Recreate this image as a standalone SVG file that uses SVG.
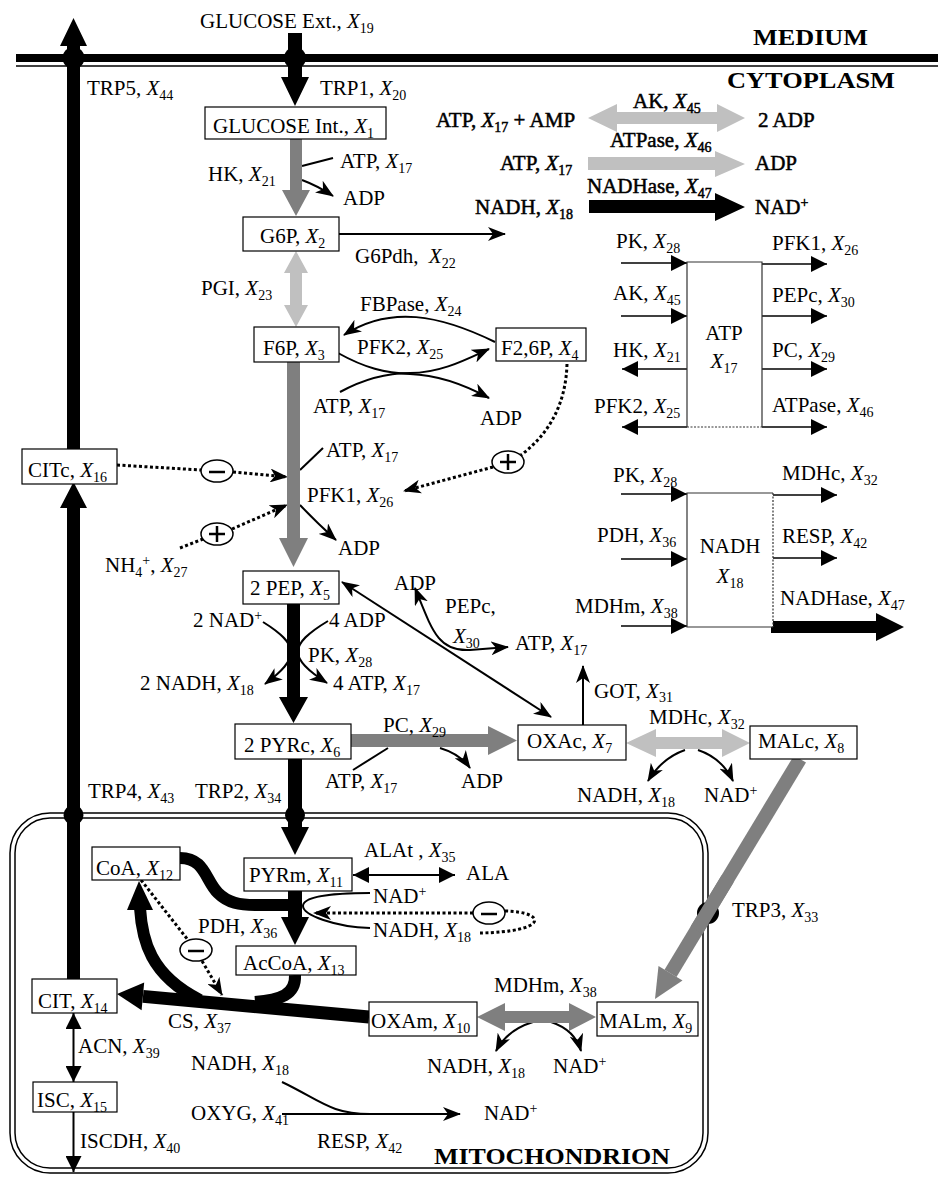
<svg xmlns="http://www.w3.org/2000/svg" width="938" height="1177" viewBox="0 0 938 1177">
<style>
.t{font-family:"Liberation Serif","Times New Roman",serif;font-size:21px;fill:#000}
.h{stroke:#000;stroke-width:0.5}
.s{font-size:14px}
.i{font-style:italic}
.b{font-family:"Liberation Serif","Times New Roman",serif;font-weight:bold;font-size:24px;fill:#000}
.box{fill:#fff;stroke:#000;stroke-width:1.2}
.ln{fill:none;stroke:#000;stroke-width:2}
.bl{fill:none;stroke:#000;stroke-width:1.5}
.dt{fill:none;stroke:#000;stroke-width:3;stroke-dasharray:3 2.5}
.sg{fill:#fff;stroke:#000;stroke-width:1.5}
.sgl{stroke:#000;stroke-width:2.5}
.dk{fill:#7f7f7f}
.lt{fill:#c0c0c0}
.bk{fill:#000}
.thk{fill:none;stroke:#000;stroke-width:12}
</style>
<defs>
<marker id="nt" viewBox="0 0 18 14" refX="17" refY="7" markerWidth="18" markerHeight="14" markerUnits="userSpaceOnUse" orient="auto-start-reverse"><path d="M0,0 L18,7 L0,14 L5,7 z" fill="#000"/></marker>
<marker id="tri" viewBox="0 0 16 16" refX="16" refY="8" markerWidth="16" markerHeight="16" markerUnits="userSpaceOnUse" orient="auto-start-reverse"><path d="M0,0 L16,8 L0,16 z" fill="#000"/></marker>
</defs>
<rect width="938" height="1177" fill="#fff"/>

<g id="compartments">
<rect x="16" y="54" width="922" height="8" fill="#000"/>
<line x1="16" y1="66" x2="938" y2="66" stroke="#000" stroke-width="1.5"/>
<rect x="10" y="813" width="698" height="360" rx="40" fill="none" stroke="#000" stroke-width="1.5"/>
<rect x="15" y="818" width="688" height="350" rx="35" fill="none" stroke="#000" stroke-width="1.5"/>
<text class="b" x="753" y="45" textLength="115" lengthAdjust="spacingAndGlyphs">MEDIUM</text>
<text class="b" x="727" y="88" textLength="168" lengthAdjust="spacingAndGlyphs">CYTOPLASM</text>
<text class="b" x="434" y="1164" textLength="236" lengthAdjust="spacingAndGlyphs">MITOCHONDRION</text>
</g>

<g id="connectors">
<path class="ln" d="M339,234 H505" marker-end="url(#nt)"/>
<path class="ln" d="M302,166 L333,158"/>
<path class="ln" d="M302,180 Q318,186 333,196" marker-end="url(#nt)"/>
<path class="ln" d="M495,342 C440,315 390,305 344,335" marker-end="url(#nt)"/>
<path class="ln" d="M338,353 C365,368 385,373 410,374 C440,375 465,385 489,398" marker-end="url(#nt)"/>
<path class="ln" d="M340,392 C362,380 385,373 410,373 C440,373 465,360 489,349" marker-end="url(#nt)"/>
<path class="ln" d="M300,470 L323,448"/>
<path class="ln" d="M300,505 Q316,522 336,540" marker-end="url(#nt)"/>
<path class="ln" d="M263,622 C300,645 300,658 265,684" marker-end="url(#nt)"/>
<path class="ln" d="M328,621 C288,645 288,658 327,683" marker-end="url(#nt)"/>
<path class="ln" d="M342,582 L551,717" marker-start="url(#nt)" marker-end="url(#nt)"/>
<path class="ln" d="M415,588 C432,630 438,652 470,650 L508,647" marker-start="url(#nt)" marker-end="url(#nt)"/>
<path class="ln" d="M583,725 V666" marker-end="url(#nt)"/>
<path class="ln" d="M353,770 L388,748"/>
<path class="ln" d="M440,748 Q460,754 470,768" marker-end="url(#nt)"/>
<path class="ln" d="M685,750 Q662,758 648,781" marker-end="url(#nt)"/>
<path class="ln" d="M698,750 Q722,758 733,781" marker-end="url(#nt)"/>
<path class="ln" d="M353,875 H455" marker-start="url(#tri)" marker-end="url(#tri)"/>
<path class="ln" d="M370,893 C330,893 303,897 303,906 C303,915 335,927 370,928"/>
<path class="ln" d="M533,1022 Q507,1030 496,1051" marker-end="url(#nt)"/>
<path class="ln" d="M551,1022 Q575,1030 581,1051" marker-end="url(#nt)"/>
<path class="ln" d="M282,1114 H460" marker-end="url(#nt)"/>
<path class="ln" d="M282,1082 C320,1100 330,1114 370,1114"/>
<path class="ln" d="M73.5,1013 V1082" marker-start="url(#tri)" marker-end="url(#tri)"/>
<path class="ln" d="M73.5,1112 V1172" marker-end="url(#tri)"/>
<path class="bl" d="M621,263 H687" marker-end="url(#tri)"/>
<path class="bl" d="M621,316 H687" marker-end="url(#tri)"/>
<path class="bl" d="M687,369 H622" marker-end="url(#tri)"/>
<path class="bl" d="M687,427 H622" marker-end="url(#tri)"/>
<path class="bl" d="M762,264 H827" marker-end="url(#tri)"/>
<path class="bl" d="M762,316 H827" marker-end="url(#tri)"/>
<path class="bl" d="M762,369 H827" marker-end="url(#tri)"/>
<path class="bl" d="M762,427 H827" marker-end="url(#tri)"/>
<path class="bl" d="M621,494 H687" marker-end="url(#tri)"/>
<path class="bl" d="M621,559 H687" marker-end="url(#tri)"/>
<path class="bl" d="M621,626 H687" marker-end="url(#tri)"/>
<path class="bl" d="M773,495 H837" marker-end="url(#tri)"/>
<path class="bl" d="M773,558 H837" marker-end="url(#tri)"/>
<path class="dt" d="M117,465 L201,470"/>
<path class="dt" d="M233,472 L287,477" marker-end="url(#nt)"/>
<path class="dt" d="M180,548 L203,539"/>
<path class="dt" d="M232,529 L287,505" marker-end="url(#nt)"/>
<path class="dt" d="M567,364 C566,400 552,432 521,455"/>
<path class="dt" d="M493,467 L404,491" marker-end="url(#nt)"/>
<path class="dt" d="M473,913 L314,913" marker-end="url(#nt)"/>
<path class="dt" d="M505,911 C548,912 548,932 480,933"/>
<path class="dt" d="M141,880 L188,940"/>
<path class="dt" d="M202,961 L222,995" marker-end="url(#nt)"/>
<polygon class="bk" points="67,449 80,449 80,46 87,46 73.5,18 60,46 67,46"/>
<polygon class="bk" points="67,979 80,979 80,508 87,508 73.5,482 60,508 67,508"/>
<polygon class="bk" points="288,33 302,33 302,77 309,77 295,106 281,77 288,77"/>
<polygon class="dk" points="290,139 302,139 302,190 310,190 296,216 282,190 290,190"/>
<polygon class="lt" points="296,251 308,273 302,273 302,305 308,305 296,327 284,305 290,305 290,273 284,273"/>
<polygon class="dk" points="287,362 300,362 300,538 308,538 293.5,567 279,538 287,538"/>
<polygon class="bk" points="287,604 300,604 300,697 308,697 293.5,723 279,697 287,697"/>
<polygon class="bk" points="288,759 302,759 302,827 309,827 295,855 281,827 288,827"/>
<polygon class="bk" points="288,891 302,891 302,917 309,917 295,945 281,917 288,917"/>
<polygon class="dk" points="351,734 488,734 488,726 517,740.5 488,755 488,747 351,747"/>
<polygon class="lt" points="626,743 656,729 656,737 722,737 722,729 750,743 722,757 722,749 656,749 656,757"/>
<polygon class="dk" points="477,1017 505,1003 505,1011 569,1011 569,1003 596,1017 569,1031 569,1023 505,1023 505,1031"/>
<polygon class="lt" points="588,118 617,104 617,112 717,112 717,104 745,118 717,132 717,124 617,124 617,132"/>
<polygon class="lt" points="588,157 715,157 715,151 745,164 715,177 715,170 588,170"/>
<polygon class="bk" points="589,200 715,200 715,193 745,207 715,221 715,213 589,213"/>
<polygon class="bk" points="771,621 876,621 876,613 904,627 876,641 876,633 771,633"/>
<line x1="800" y1="759" x2="670.5" y2="973.3" stroke="#7f7f7f" stroke-width="14"/>
<polygon class="dk" points="655,999 682.5,980.5 658.5,966.1"/>
<line x1="369" y1="1017" x2="143" y2="996.4" stroke="#000" stroke-width="13"/>
<polygon class="bk" points="117,994 144.2,982.5 141.6,1010.3"/>
<path class="thk" d="M180,858 C205,858 205,880 218,893 C228,903 240,905 255,905 L289,905"/>
<path class="thk" d="M140,908 C142,940 150,975 200,1000" stroke-width="13"/>
<polygon class="bk" points="139,881 153,910 127,910"/>
<path class="thk" d="M295,975 C296,995 280,1000 255,1002"/>
<circle cx="73.5" cy="58" r="11" fill="#000"/>
<circle cx="295" cy="58" r="11" fill="#000"/>
<circle cx="73.5" cy="815" r="10" fill="#000"/>
<circle cx="295" cy="815" r="10" fill="#000"/>
<circle cx="708" cy="913" r="11" fill="#000"/>
<line x1="800" y1="759" x2="670.5" y2="973.3" stroke="#7f7f7f" stroke-width="14" stroke-dasharray="0 140 60 400"/>
<ellipse class="sg" cx="217" cy="471" rx="16" ry="11"/><line class="sgl" x1="209" y1="472" x2="225" y2="472"/>
<ellipse class="sg" cx="217" cy="534" rx="16" ry="11"/><line class="sgl" x1="209" y1="534" x2="225" y2="534"/><line class="sgl" x1="217" y1="526" x2="217" y2="542"/>
<ellipse class="sg" cx="508" cy="462" rx="16" ry="11"/><line class="sgl" x1="500" y1="462" x2="516" y2="462"/><line class="sgl" x1="508" y1="454" x2="508" y2="470"/>
<ellipse class="sg" cx="489" cy="913" rx="16" ry="11"/><line class="sgl" x1="481" y1="914" x2="497" y2="914"/>
<ellipse class="sg" cx="196" cy="950" rx="16" ry="11"/><line class="sgl" x1="188" y1="951" x2="204" y2="951"/>
</g>

<g id="labels">
<text class="t" x="200" y="28">GLUCOSE Ext., <tspan class="i">X</tspan><tspan class="s" dy="5">19</tspan></text>
<text class="t" x="87" y="95">TRP5, <tspan class="i">X</tspan><tspan class="s" dy="5">44</tspan></text>
<text class="t" x="320" y="95">TRP1, <tspan class="i">X</tspan><tspan class="s" dy="5">20</tspan></text>
<text class="t" x="208" y="181">HK, <tspan class="i">X</tspan><tspan class="s" dy="5">21</tspan></text>
<text class="t" x="340" y="168">ATP, <tspan class="i">X</tspan><tspan class="s" dy="5">17</tspan></text>
<text class="t" x="343" y="205">ADP</text>
<text class="t" x="355" y="263">G6Pdh, <tspan class="i" dx="5">X</tspan><tspan class="s" dy="5">22</tspan></text>
<text class="t" x="201" y="295">PGI, <tspan class="i">X</tspan><tspan class="s" dy="5">23</tspan></text>
<text class="t" x="360" y="311">FBPase, <tspan class="i">X</tspan><tspan class="s" dy="5">24</tspan></text>
<text class="t" x="357" y="354">PFK2, <tspan class="i">X</tspan><tspan class="s" dy="5">25</tspan></text>
<text class="t" x="313" y="413">ATP, <tspan class="i">X</tspan><tspan class="s" dy="5">17</tspan></text>
<text class="t" x="480" y="425">ADP</text>
<text class="t" x="326" y="457">ATP, <tspan class="i">X</tspan><tspan class="s" dy="5">17</tspan></text>
<text class="t" x="307" y="502">PFK1, <tspan class="i">X</tspan><tspan class="s" dy="5">26</tspan></text>
<text class="t" x="338" y="555">ADP</text>
<text class="t" x="105" y="572">NH<tspan class="s" dy="5">4</tspan><tspan class="s" dy="-12">+</tspan><tspan dy="7">, </tspan><tspan class="i">X</tspan><tspan class="s" dy="5">27</tspan></text>
<text class="t" x="394" y="590">ADP</text>
<text class="t" x="445" y="613">PEPc,</text>
<text class="t" x="453" y="643"><tspan class="i">X</tspan><tspan class="s" dy="5">30</tspan></text>
<text class="t" x="515" y="650">ATP, <tspan class="i">X</tspan><tspan class="s" dy="5">17</tspan></text>
<text class="t" x="193" y="627">2 NAD<tspan class="s" dy="-7">+</tspan></text>
<text class="t" x="329" y="627">4 ADP</text>
<text class="t" x="308" y="662">PK, <tspan class="i">X</tspan><tspan class="s" dy="5">28</tspan></text>
<text class="t" x="140" y="690">2 NADH, <tspan class="i">X</tspan><tspan class="s" dy="5">18</tspan></text>
<text class="t" x="333" y="690">4 ATP, <tspan class="i">X</tspan><tspan class="s" dy="5">17</tspan></text>
<text class="t" x="594" y="698">GOT, <tspan class="i">X</tspan><tspan class="s" dy="4">31</tspan></text>
<text class="t" x="383" y="732">PC, <tspan class="i">X</tspan><tspan class="s" dy="5">29</tspan></text>
<text class="t" x="649" y="724">MDHc, <tspan class="i">X</tspan><tspan class="s" dy="5">32</tspan></text>
<text class="t" x="325" y="788">ATP, <tspan class="i">X</tspan><tspan class="s" dy="5">17</tspan></text>
<text class="t" x="461" y="788">ADP</text>
<text class="t" x="577" y="802">NADH, <tspan class="i">X</tspan><tspan class="s" dy="5">18</tspan></text>
<text class="t" x="704" y="802">NAD<tspan class="s" dy="-7">+</tspan></text>
<text class="t" x="88" y="798">TRP4, <tspan class="i">X</tspan><tspan class="s" dy="5">43</tspan></text>
<text class="t" x="195" y="798">TRP2, <tspan class="i">X</tspan><tspan class="s" dy="5">34</tspan></text>
<text class="t" x="364" y="857">ALAt , <tspan class="i">X</tspan><tspan class="s" dy="5">35</tspan></text>
<text class="t" x="466" y="880">ALA</text>
<text class="t" x="373" y="903">NAD<tspan class="s" dy="-7">+</tspan></text>
<text class="t" x="732" y="917">TRP3, <tspan class="i">X</tspan><tspan class="s" dy="5">33</tspan></text>
<text class="t" x="198" y="933">PDH, <tspan class="i">X</tspan><tspan class="s" dy="5">36</tspan></text>
<text class="t" x="373" y="937">NADH, <tspan class="i">X</tspan><tspan class="s" dy="5">18</tspan></text>
<text class="t" x="494" y="992">MDHm, <tspan class="i">X</tspan><tspan class="s" dy="5">38</tspan></text>
<text class="t" x="168" y="1028">CS, <tspan class="i">X</tspan><tspan class="s" dy="5">37</tspan></text>
<text class="t" x="78" y="1053">ACN, <tspan class="i">X</tspan><tspan class="s" dy="5">39</tspan></text>
<text class="t" x="191" y="1070">NADH, <tspan class="i">X</tspan><tspan class="s" dy="5">18</tspan></text>
<text class="t" x="427" y="1073">NADH, <tspan class="i">X</tspan><tspan class="s" dy="5">18</tspan></text>
<text class="t" x="553" y="1073">NAD<tspan class="s" dy="-7">+</tspan></text>
<text class="t" x="191" y="1120">OXYG, <tspan class="i">X</tspan><tspan class="s" dy="5">41</tspan></text>
<text class="t" x="484" y="1120">NAD<tspan class="s" dy="-7">+</tspan></text>
<text class="t" x="80" y="1148">ISCDH, <tspan class="i">X</tspan><tspan class="s" dy="5">40</tspan></text>
<text class="t" x="317" y="1148">RESP, <tspan class="i">X</tspan><tspan class="s" dy="5">42</tspan></text>
<text class="t h" x="633" y="108">AK, <tspan class="i">X</tspan><tspan class="s" dy="5">45</tspan></text>
<text class="t h" x="436" y="127">ATP, <tspan class="i">X</tspan><tspan class="s" dy="5">17</tspan><tspan dy="-5"> + AMP</tspan></text>
<text class="t h" x="758" y="127">2 ADP</text>
<text class="t h" x="610" y="147">ATPase, <tspan class="i">X</tspan><tspan class="s" dy="5">46</tspan></text>
<text class="t h" x="500" y="170">ATP, <tspan class="i">X</tspan><tspan class="s" dy="5">17</tspan></text>
<text class="t h" x="755" y="170">ADP</text>
<text class="t h" x="587" y="193">NADHase, <tspan class="i">X</tspan><tspan class="s" dy="5">47</tspan></text>
<text class="t h" x="475" y="214">NADH, <tspan class="i">X</tspan><tspan class="s" dy="5">18</tspan></text>
<text class="t h" x="755" y="214">NAD<tspan class="s" dy="-7">+</tspan></text>
<text class="t" x="616" y="248">PK, <tspan class="i">X</tspan><tspan class="s" dy="5">28</tspan></text>
<text class="t" x="613" y="300">AK, <tspan class="i">X</tspan><tspan class="s" dy="5">45</tspan></text>
<text class="t" x="613" y="357">HK, <tspan class="i">X</tspan><tspan class="s" dy="5">21</tspan></text>
<text class="t" x="594" y="413">PFK2, <tspan class="i">X</tspan><tspan class="s" dy="5">25</tspan></text>
<text class="t" x="772" y="250">PFK1, <tspan class="i">X</tspan><tspan class="s" dy="5">26</tspan></text>
<text class="t" x="772" y="302">PEPc, <tspan class="i">X</tspan><tspan class="s" dy="5">30</tspan></text>
<text class="t" x="772" y="357">PC, <tspan class="i">X</tspan><tspan class="s" dy="5">29</tspan></text>
<text class="t" x="772" y="412">ATPase, <tspan class="i">X</tspan><tspan class="s" dy="5">46</tspan></text>
<text class="t" x="613" y="482">PK, <tspan class="i">X</tspan><tspan class="s" dy="5">28</tspan></text>
<text class="t" x="597" y="542">PDH, <tspan class="i">X</tspan><tspan class="s" dy="5">36</tspan></text>
<text class="t" x="575" y="613">MDHm, <tspan class="i">X</tspan><tspan class="s" dy="5">38</tspan></text>
<text class="t" x="782" y="480">MDHc, <tspan class="i">X</tspan><tspan class="s" dy="5">32</tspan></text>
<text class="t" x="782" y="543">RESP, <tspan class="i">X</tspan><tspan class="s" dy="5">42</tspan></text>
<text class="t" x="780" y="605">NADHase, <tspan class="i">X</tspan><tspan class="s" dy="5">47</tspan></text>
</g>

<g id="GLUCOSE_Int"><rect class="box" x="205" y="107" width="181" height="32"/><text class="t" x="213" y="133">GLUCOSE Int., <tspan class="i">X</tspan><tspan class="s" dy="5">1</tspan></text></g>
<g id="G6P"><rect class="box" x="243" y="217" width="96" height="34"/><text class="t" x="260" y="243">G6P, <tspan class="i">X</tspan><tspan class="s" dy="5">2</tspan></text></g>
<g id="F6P"><rect class="box" x="254" y="327" width="85" height="35"/><text class="t" x="263" y="355">F6P, <tspan class="i">X</tspan><tspan class="s" dy="5">3</tspan></text></g>
<g id="F26P"><rect class="box" x="496" y="328" width="90" height="33"/><text class="t" x="501" y="355">F2,6P, <tspan class="i">X</tspan><tspan class="s" dy="5">4</tspan></text></g>
<g id="CITc"><rect class="box" x="22" y="449" width="95" height="35"/><text class="t" x="28" y="477">CITc, <tspan class="i">X</tspan><tspan class="s" dy="5">16</tspan></text></g>
<g id="PEP"><rect class="box" x="243" y="571" width="96" height="33"/><text class="t" x="250" y="595">2 PEP, <tspan class="i">X</tspan><tspan class="s" dy="5">5</tspan></text></g>
<g id="PYRc"><rect class="box" x="235" y="724" width="116" height="35"/><text class="t" x="244" y="752">2 PYRc, <tspan class="i">X</tspan><tspan class="s" dy="5">6</tspan></text></g>
<g id="OXAc"><rect class="box" x="518" y="725" width="108" height="35"/><text class="t" x="527" y="748">OXAc, <tspan class="i">X</tspan><tspan class="s" dy="5">7</tspan></text></g>
<g id="MALc"><rect class="box" x="750" y="726" width="107" height="33"/><text class="t" x="758" y="748">MALc, <tspan class="i">X</tspan><tspan class="s" dy="5">8</tspan></text></g>
<g id="CoA"><rect class="box" x="92" y="847" width="88" height="33"/><text class="t" x="96" y="875">CoA, <tspan class="i">X</tspan><tspan class="s" dy="5">12</tspan></text></g>
<g id="PYRm"><rect class="box" x="244" y="858" width="108" height="33"/><text class="t" x="249" y="882">PYRm, <tspan class="i">X</tspan><tspan class="s" dy="5">11</tspan></text></g>
<g id="AcCoA"><rect class="box" x="236" y="946" width="120" height="29"/><text class="t" x="243" y="970">AcCoA, <tspan class="i">X</tspan><tspan class="s" dy="5">13</tspan></text></g>
<g id="CIT"><rect class="box" x="32" y="979" width="85" height="34"/><text class="t" x="38" y="1008">CIT, <tspan class="i">X</tspan><tspan class="s" dy="5">14</tspan></text></g>
<g id="OXAm"><rect class="box" x="369" y="1002" width="108" height="34"/><text class="t" x="371" y="1028">OXAm, <tspan class="i">X</tspan><tspan class="s" dy="5">10</tspan></text></g>
<g id="MALm"><rect class="box" x="597" y="1002" width="101" height="34"/><text class="t" x="599" y="1028">MALm, <tspan class="i">X</tspan><tspan class="s" dy="5">9</tspan></text></g>
<g id="ISC"><rect class="box" x="33" y="1082" width="84" height="30"/><text class="t" x="37" y="1107">ISC, <tspan class="i">X</tspan><tspan class="s" dy="5">15</tspan></text></g>
<g id="ATP_pool">
<rect x="687" y="262" width="75" height="165" fill="#fff"/>
<path d="M687,427 V262 H762 V427" fill="none" stroke="#333" stroke-width="1.2"/>
<line x1="687" y1="427" x2="762" y2="427" stroke="#333" stroke-width="1.2" stroke-dasharray="2 1.5"/>
<text class="t" x="724" y="340" text-anchor="middle">ATP</text>
<text class="t" x="724" y="368" text-anchor="middle"><tspan class="i">X</tspan><tspan class="s" dy="5">17</tspan></text>
</g>
<g id="NADH_pool">
<rect x="687" y="493" width="86" height="134" fill="#fff"/>
<path d="M773,493 H687 V627 H773" fill="none" stroke="#333" stroke-width="1.2"/>
<line x1="773" y1="493" x2="773" y2="627" stroke="#333" stroke-width="1.2" stroke-dasharray="2 1.5"/>
<text class="t" x="730" y="553" text-anchor="middle">NADH</text>
<text class="t" x="730" y="583" text-anchor="middle"><tspan class="i">X</tspan><tspan class="s" dy="5">18</tspan></text>
</g>
</svg>
